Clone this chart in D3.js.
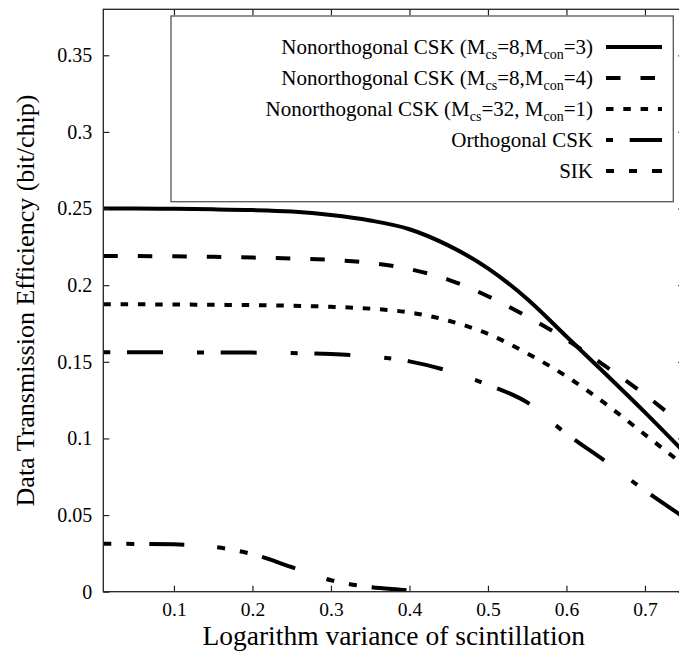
<!DOCTYPE html>
<html>
<head>
<meta charset="utf-8">
<script src="https://cdn.jsdelivr.net/npm/d3@7"></script>
<style>
  body { margin: 0; background: #fff; }
  svg { display: block; font-family: "Liberation Serif", "DejaVu Serif", serif; }
</style>
</head>
<body>
<svg width="679" height="651"></svg>
<script>
var variance = [0.01, 0.05, 0.1, 0.15, 0.2, 0.25, 0.3, 0.35, 0.4, 0.45, 0.5, 0.55, 0.6, 0.65, 0.7, 0.75]
var nonOrth83 = [0.25, 0.25, 0.2498, 0.2495, 0.249, 0.248, 0.2458, 0.2422, 0.2365, 0.2258, 0.211, 0.191, 0.1665, 0.142, 0.117, 0.091]
var nonOrth84 = [0.219, 0.219, 0.2188, 0.2185, 0.218, 0.2174, 0.2165, 0.2146, 0.2105, 0.2035, 0.1928, 0.1795, 0.1645, 0.147, 0.1285, 0.108]
var nonOrth321 = [0.1875, 0.1875, 0.1874, 0.1872, 0.187, 0.1866, 0.1859, 0.1847, 0.1822, 0.1768, 0.1682, 0.1555, 0.1405, 0.1225, 0.1025, 0.0825]
var orthCsk = [0.1563, 0.1563, 0.1562, 0.1561, 0.156, 0.1557, 0.1551, 0.1535, 0.1503, 0.144, 0.135, 0.1235, 0.103, 0.085, 0.066, 0.0485]
var sikVariance = [0.01, 0.05, 0.1, 0.15, 0.2, 0.25, 0.3, 0.35, 0.4, 0.41]
var sik = [0.0313, 0.0312, 0.0309, 0.0293, 0.0245, 0.016, 0.0075, 0.003, 0.0008, 0.0002]

var xTicks = [0.1, 0.2, 0.3, 0.4, 0.5, 0.6, 0.7]
var yTicks = [0, 0.05, 0.1, 0.15, 0.2, 0.25, 0.3, 0.35]

// legend labels, second item of each piece marks a subscript
var legendLabels = [
    [['Nonorthogonal CSK (M', 0], ['cs', 1], ['=8,M', 0], ['con', 1], ['=3)', 0]],
    [['Nonorthogonal CSK (M', 0], ['cs', 1], ['=8,M', 0], ['con', 1], ['=4)', 0]],
    [['Nonorthogonal CSK (M', 0], ['cs', 1], ['=32, M', 0], ['con', 1], ['=1)', 0]],
    [['Orthogonal CSK', 0]],
    [['SIK', 0]]
]

var series = [
    { x: variance, y: nonOrth83, dash: null },
    { x: variance, y: nonOrth84, dash: '14.5,20' },
    { x: variance, y: nonOrth321, dash: '7.5,9.8' },
    { x: variance, y: orthCsk, dash: '7,16.7,36,34' },
    { x: sikVariance, y: sik, dash: '8,15,8,15,35,33' }
]

var svg = d3.select('svg')

// plot box (window.top is read-only, hence the prefix)
var pLeft = 103.3, pRight = 684.2, pTop = 9.3, pBottom = 591.7

var x = d3.scaleLinear().domain([0.01, 0.75]).range([pLeft, pRight])
var y = d3.scaleLinear().domain([0, 0.38]).range([pBottom, pTop])

svg.append('clipPath')
    .attr('id', 'plot')
    .append('rect')
    .attr('x', pLeft)
    .attr('y', pTop)
    .attr('width', pRight - pLeft)
    .attr('height', pBottom - pTop)

var line = d3.line()
    .x(d => x(d[0]))
    .y(d => y(d[1]))
    .curve(d3.curveMonotoneX)

svg.append('g')
    .attr('clip-path', 'url(#plot)')
    .selectAll('path')
    .data(series)
    .join('path')
    .attr('d', s => line(d3.zip(s.x, s.y)))
    .style('fill', 'none')
    .style('stroke', '#000')
    .style('stroke-width', 4)
    .style('stroke-dasharray', s => s.dash)

function styleAxis(g, size) {
    g.select('.domain').remove()
    g.selectAll('.tick line').style('stroke', '#222').style('stroke-width', 1.2)
    g.selectAll('text')
        .style('font-family', '"Liberation Serif", serif')
        .style('font-size', size + 'px')
        .style('fill', '#000')
}

svg.append('g')
    .attr('transform', 'translate(0,' + pBottom + ')')
    .call(d3.axisBottom(x).tickValues(xTicks).tickFormat(d3.format('')).tickSizeInner(-6).tickSizeOuter(0).tickPadding(10.5))
    .call(g => styleAxis(g, 19.5))

svg.append('g')
    .attr('transform', 'translate(0,' + pTop + ')')
    .call(d3.axisTop(x).tickValues(xTicks).tickFormat('').tickSizeInner(-6).tickSizeOuter(0))
    .call(g => styleAxis(g, 19.5))

svg.append('g')
    .attr('transform', 'translate(' + pLeft + ',0)')
    .call(d3.axisLeft(y).tickValues(yTicks).tickFormat(d3.format('')).tickSizeInner(-6).tickSizeOuter(0).tickPadding(11))
    .call(g => styleAxis(g, 20))

svg.append('g')
    .attr('transform', 'translate(' + pRight + ',0)')
    .call(d3.axisRight(y).tickValues(yTicks).tickFormat('').tickSizeInner(-6).tickSizeOuter(0))
    .call(g => styleAxis(g, 20))

svg.append('rect')
    .attr('x', pLeft)
    .attr('y', pTop)
    .attr('width', pRight - pLeft)
    .attr('height', pBottom - pTop)
    .style('fill', 'none')
    .style('stroke', '#222')
    .style('stroke-width', 1.3)

// legend
var legend = svg.append('g')

legend.append('rect')
    .attr('x', 171)
    .attr('y', 16)
    .attr('width', 502.3)
    .attr('height', 185.7)
    .style('fill', '#fff')
    .style('stroke', '#555')
    .style('stroke-width', 1.3)

var rows = legend.selectAll('g.row')
    .data(series)
    .join('g')
    .attr('class', 'row')
    .attr('transform', (s, i) => 'translate(0,' + (47 + i * 31) + ')')

rows.append('line')
    .attr('x1', 606)
    .attr('x2', 662)
    .style('stroke', '#000')
    .style('stroke-width', 4)
    .style('stroke-dasharray', s => s.dash)

rows.append('text')
    .attr('x', 593)
    .attr('y', 7)
    .attr('text-anchor', 'end')
    .style('font-size', '21px')
    .each(function (s, i) {
        var t = d3.select(this)
        var shift = 0
        legendLabels[i].forEach(p => {
            var dy = p[1] ? 5 - shift : -shift
            shift = p[1] ? 5 : 0
            t.append('tspan')
                .attr('dy', dy)
                .style('font-size', p[1] ? '14px' : null)
                .text(p[0])
        })
    })

svg.append('text')
    .attr('x', (pLeft + pRight) / 2)
    .attr('y', 645)
    .attr('text-anchor', 'middle')
    .style('font-size', '27.5px')
    .text('Logarithm variance of scintillation')

svg.append('text')
    .attr('transform', 'translate(34,' + (pTop + pBottom) / 2 + ') rotate(-90)')
    .attr('text-anchor', 'middle')
    .style('font-size', '26px')
    .text('Data Transmission Efficiency (bit/chip)')
</script>
</body>
</html>
